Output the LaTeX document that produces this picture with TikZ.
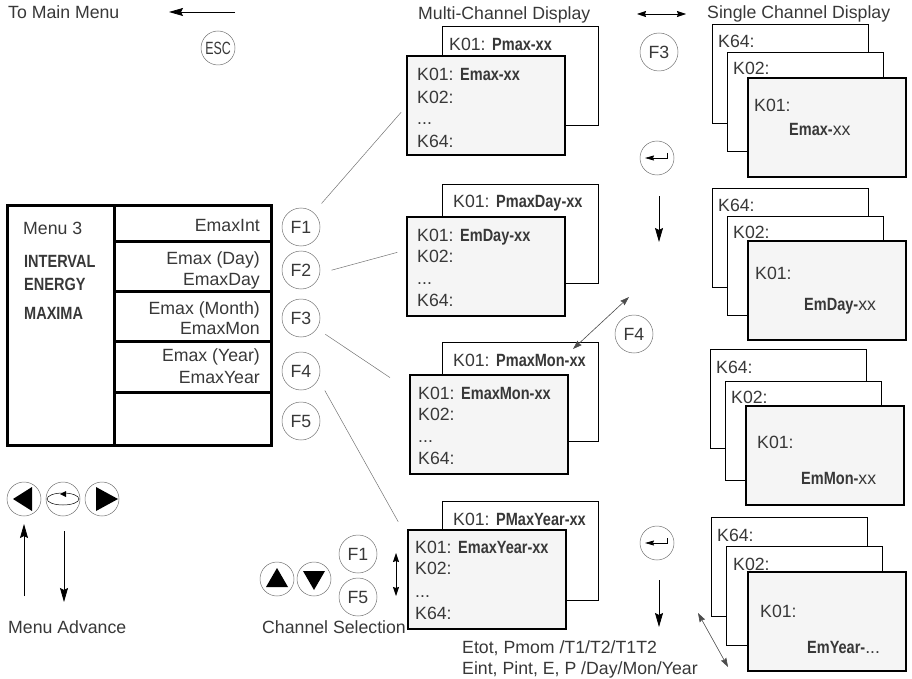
\documentclass[tikz,border=0pt]{standalone}
\usepackage{fontspec}
\setmainfont{Liberation Sans}
\newfontfamily\narrowfont[FakeStretch=0.82]{Liberation Sans}
\newfontfamily\escfont[FakeStretch=0.7]{Liberation Sans}
\usetikzlibrary{arrows.meta}
\definecolor{dispfill}{HTML}{F5F5F5}
\newcommand{\bb}[1]{{\narrowfont\bfseries #1}}
\begin{document}
\begin{tikzpicture}[x=1pt, y=-1pt,
    every node/.style={text=black!78, font=\fontsize{17.7}{20}\selectfont},
    txt/.style={anchor=west, inner sep=0pt, text height=12.6pt, text depth=0pt},
    rtxt/.style={txt, anchor=east},
    btn/.style={circle, draw=black!55, line width=.5pt, minimum size=38pt, inner sep=0pt},
    sbtn/.style={btn, minimum size=34pt},
    back/.style={draw=black, line width=.9pt, fill=white, anchor=north west, inner sep=0pt, outer sep=0pt, minimum width=156pt, minimum height=99pt},
    front/.style={back, line width=2.4pt, fill=dispfill, minimum width=158pt},
    menucell/.style={draw=black, line width=3pt, anchor=north west, inner sep=0pt, outer sep=0pt},
    arr/.style={-{Stealth[length=14pt, width=8pt, inset=2pt]}, black, line width=.8pt},
    darr/.style={{Stealth[length=9pt, width=6pt, inset=1pt]}-{Stealth[length=9pt, width=6pt, inset=1pt]}, black, line width=.6pt},
    link/.style={black!55, line width=.5pt}]
    \useasboundingbox (0,0) rectangle (912,679);

    \node[txt] (tomain) at (8,12) {To Main Menu};
    \coordinate (escstart) at (235,12);
    \coordinate (escend) at (169,12);
    \draw[arr] (escstart) -- (escend);
    \node[sbtn] (esc) at (218,48) {\escfont ESC};

    \node[txt] (multi) at (418,13) {Multi-Channel Display};
    \node[txt] (single) at (707,12) {Single Channel Display};
    \coordinate (swa) at (637,14);
    \coordinate (swb) at (686,14);
    \draw[darr] (swa) -- (swb);

    \node[menucell, minimum width=107pt, minimum height=240pt] (menu) at (7,205) {};
    \node[menucell, minimum width=157pt, minimum height=36pt] (row1) at (114,205) {};
    \node[menucell, minimum width=157pt, minimum height=50pt] (row2) at (114,241) {};
    \node[menucell, minimum width=157pt, minimum height=50pt] (row3) at (114,291) {};
    \node[menucell, minimum width=157pt, minimum height=51pt] (row4) at (114,341) {};
    \node[menucell, minimum width=157pt, minimum height=53pt] (row5) at (114,392) {};
    \node[txt] (m3) at (23,228) {Menu 3};
    \node[txt] (mi) at (24,261) {\bb{INTERVAL}};
    \node[txt] (me) at (24,284) {\bb{ENERGY}};
    \node[txt] (mm) at (24,313) {\bb{MAXIMA}};
    \node[rtxt] (r1) at (260,225) {EmaxInt};
    \node[rtxt] (r2a) at (260,258) {Emax (Day)};
    \node[rtxt] (r2b) at (260,279) {EmaxDay};
    \node[rtxt] (r3a) at (260,308) {Emax (Month)};
    \node[rtxt] (r3b) at (260,328) {EmaxMon};
    \node[rtxt] (r4a) at (260,355) {Emax (Year)};
    \node[rtxt] (r4b) at (260,377) {EmaxYear};

    \node[btn] (F1) at (301,227) {F1};
    \node[btn] (F2) at (301,270) {F2};
    \node[btn] (F3) at (301,318) {F3};
    \node[btn] (F4) at (301,371) {F4};
    \node[btn] (F5) at (301,421) {F5};

    \node[back] (m1b) at (442,26) {};
    \node[txt] at (449,44) {K01: \bb{Pmax-xx}};
    \node[front] (m1) at (407,56) {};
    \node[txt] at (417,74) {K01: \bb{Emax-xx}};
    \node[txt] at (417,97) {K02:};
    \node[txt] at (417,118) {...};
    \node[txt] at (417,141) {K64:};

    \node[back] (m2b) at (442,184) {};
    \node[txt] at (453,201) {K01: \bb{PmaxDay-xx}};
    \node[front] (m2) at (407,217) {};
    \node[txt] at (417,235) {K01: \bb{EmDay-xx}};
    \node[txt] at (417,256) {K02:};
    \node[txt] at (417,278) {...};
    \node[txt] at (417,300) {K64:};

    \node[back] (m3b) at (442,342) {};
    \node[txt] at (453,360) {K01: \bb{PmaxMon-xx}};
    \node[front] (m3) at (410,375) {};
    \node[txt] at (418,393) {K01: \bb{EmaxMon-xx}};
    \node[txt] at (418,414) {K02:};
    \node[txt] at (418,436) {...};
    \node[txt] at (418,458) {K64:};

    \node[back] (m4b) at (442,501) {};
    \node[txt] at (453,519) {K01: \bb{PMaxYear-xx}};
    \node[front] (m4) at (408,530) {};
    \node[txt] at (415,547) {K01: \bb{EmaxYear-xx}};
    \node[txt] at (415,568) {K02:};
    \node[txt] at (415,591) {...};
    \node[txt] at (415,613) {K64:};

    \node[back] (s1c) at (712,24) {};
    \node[txt] at (718,41) {K64:};
    \node[back] (s1b) at (727,52) {};
    \node[txt] at (733,68) {K02:};
    \node[front] (s1) at (748,78) {};
    \node[txt] at (754,105) {K01:};
    \node[txt] at (789,129) {\bb{Emax-}xx};

    \node[back] (s2c) at (712,188) {};
    \node[txt] at (718,205) {K64:};
    \node[back] (s2b) at (727,216) {};
    \node[txt] at (733,232) {K02:};
    \node[front] (s2) at (748,241) {};
    \node[txt] at (755,273) {K01:};
    \node[txt] at (804,304) {\bb{EmDay-}xx};

    \node[back] (s3c) at (710,349) {};
    \node[txt] at (716,367) {K64:};
    \node[back] (s3b) at (725,381) {};
    \node[txt] at (731,397) {K02:};
    \node[front] (s3) at (746,406) {};
    \node[txt] at (757,442) {K01:};
    \node[txt] at (801,478) {\bb{EmMon-}xx};

    \node[back] (s4c) at (711,517) {};
    \node[txt] at (717,535) {K64:};
    \node[back] (s4b) at (726,546) {};
    \node[txt] at (733,564) {K02:};
    \node[front] (s4) at (748,572) {};
    \node[txt] at (760,611) {K01:};
    \node[txt] at (807,647) {\bb{EmYear-}...};

    \path[link]
    (F1) edge[shorten <=12pt, shorten >=9pt] (m1.west)
    (F2.-10) edge[shorten <=12pt, shorten >=10pt] (m2.168)
    (F3) edge[shorten <=10pt, shorten >=24pt] (m3.157)
    (F4.-25) edge[shorten <=13pt, shorten >=20pt] (m4.153);

    \node[btn] (F3top) at (659,52) {F3};
    \node[sbtn] (ent1) at (657,158) {};
    \draw[-{Stealth[length=9pt, width=5pt, inset=1pt]}, black, line width=.7pt] (ent1) ++(10,-5) |- ++(-22,5);
    \coordinate (da) at (659,196);
    \coordinate (db) at (659,242);
    \draw[arr] (da) -- (db);
    \node[btn] (F4top) at (634,334) {F4};
    \coordinate (fa) at (629,297);
    \coordinate (fb) at (573,349);
    \draw[darr, draw=black!70] (fa) -- (fb);
    \node[sbtn] (ent2) at (657,543) {};
    \draw[-{Stealth[length=9pt, width=5pt, inset=1pt]}, black, line width=.7pt] (ent2) ++(10,-5) |- ++(-22,5);
    \coordinate (ga) at (659,580);
    \coordinate (gb) at (659,627);
    \draw[arr] (ga) -- (gb);
    \node[txt] (etot) at (462,647) {Etot, Pmom /T1/T2/T1T2};
    \node[txt] (eint) at (462,668) {Eint, Pint, E, P /Day/Mon/Year};
    \coordinate (ha) at (698,613);
    \coordinate (hb) at (728,667);
    \draw[darr, draw=black!70] (ha) -- (hb);

    \node[sbtn] (left) at (24,499) {};
    \node[sbtn] (mid) at (63,499) {};
    \node[sbtn] (right) at (102,499) {};
    \fill[black] (left) ++(-11,0) -- ++(19,-12) -- ++(0,24) -- cycle;
    \fill[black] (right) ++(-6,-12) -- ++(0,24) -- ++(22,-12) -- cycle;
    \draw[black, line width=.5pt] (mid) ellipse [x radius=16pt, y radius=6pt];
    \fill[black] (mid) ++(-3,-5) -- ++(6,-3) -- ++(0,6) -- cycle;
    \coordinate (upa) at (24,596);
    \coordinate (upb) at (24,524);
    \draw[arr] (upa) -- (upb);
    \coordinate (dna) at (64,531);
    \coordinate (dnb) at (64,602);
    \draw[arr] (dna) -- (dnb);
    \node[txt] (advance) at (8,627) {Menu Advance};

    \node[sbtn] (chup) at (277,579) {};
    \node[sbtn] (chdn) at (314,579) {};
    \fill[black] (chup) ++(0,-11) -- ++(-11,19) -- ++(22,0) -- cycle;
    \fill[black] (chdn) ++(-11,-8) -- ++(22,0) -- ++(-11,19) -- cycle;
    \node[btn] (F1b) at (358,554) {F1};
    \node[btn] (F5b) at (358,597) {F5};
    \coordinate (ca) at (396,553);
    \coordinate (cb) at (396,596);
    \draw[darr] (ca) -- (cb);
    \node[txt] (chan) at (262,627) {Channel Selection};
\end{tikzpicture}
\end{document}
